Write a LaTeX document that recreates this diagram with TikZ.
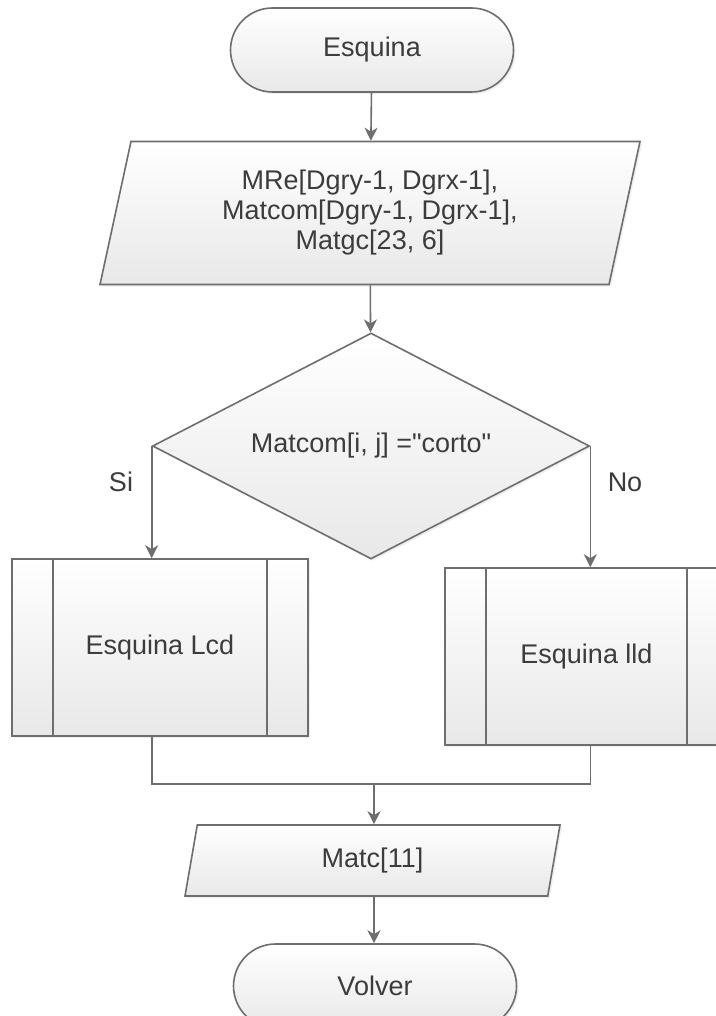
\documentclass[tikz,border=0pt]{standalone}
\usepackage{fontspec}
\setmainfont{Liberation Sans}[Ligatures=TeXOff]
\usetikzlibrary{shapes.geometric,shapes.misc,arrows.meta,shadows}

\definecolor{linegray}{HTML}{6E6E6E}
\definecolor{textgray}{HTML}{3C3C3C}

\tikzset{
    base/.style={draw=linegray, line width=1.6pt, top color=white, bottom color=black!9,
        text=textgray, align=center, inner sep=0pt,
        drop shadow={opacity=0.12, shadow xshift=2pt, shadow yshift=-2pt}},
    term/.style={base, rounded rectangle, minimum width=283pt, minimum height=84pt},
    io/.style={base, trapezium, trapezium stretches body},
    decision/.style={base, diamond, minimum width=437pt, minimum height=226pt, aspect=1.93},
    subproc/.style={base, rectangle, minimum height=177pt,
        path picture={\draw[linegray, line width=1.6pt]
            ([xshift=41pt]path picture bounding box.north west) -- ([xshift=41pt]path picture bounding box.south west)
            ([xshift=-41pt]path picture bounding box.north east) -- ([xshift=-41pt]path picture bounding box.south east);}},
    line/.style={draw=linegray, line width=1.6pt},
    arrow/.style={line, -{Stealth[length=13pt, width=13pt, inset=4pt]}},
    lbl/.style={text=textgray}
}

\begin{document}
\begin{tikzpicture}[x=1pt, y=-1pt, font=\fontsize{27}{30}\selectfont]
    \fill[white] (0,0) rectangle (715,1016);
    \useasboundingbox (0,0) rectangle (715,1016);

    \node[term] (start) at (372,50) {Esquina};
    \node[io, trapezium left angle=70, trapezium right angle=110, minimum width=540pt, minimum height=143pt]
        (dims) at (370,213) {MRe[Dgry-1, Dgrx-1],\\ Matcom[Dgry-1, Dgrx-1],\\ Matgc[23, 6]};
    \node[decision] (dec) at (371,446) {Matcom[i, j] ="corto"};
    \node[subproc, minimum width=296pt] (lcd) at (160,647.5) {Esquina Lcd};
    \node[subproc, minimum width=283pt] (lld) at (586.5,656.5) {Esquina lld};
    \node[io, trapezium left angle=64, trapezium right angle=116, minimum width=375pt, minimum height=71pt]
        (matc) at (372.5,860.5) {Matc[11]};
    \node[term] (stop) at (375,986) {Volver};

    \node[lbl] (si) at (121,482) {Si};
    \node[lbl] (no) at (625,482) {No};

    % flow
    \draw[arrow] (start) -- (dims);
    \draw[arrow] (dims) -- (dec);
    \draw[arrow] (dec.west) -- (dec.west |- lcd.north);
    \draw[arrow] (dec.east) -- (dec.east |- lld.north);
    \coordinate (merge) at (374,784);
    \draw[line] (dec.west |- lcd.south) |- (merge) -| (dec.east |- lld.south);
    \draw[arrow] (merge) -- (merge |- matc.north);
    \draw[arrow] (matc.south -| merge) -- (merge |- stop.north);
\end{tikzpicture}
\end{document}
